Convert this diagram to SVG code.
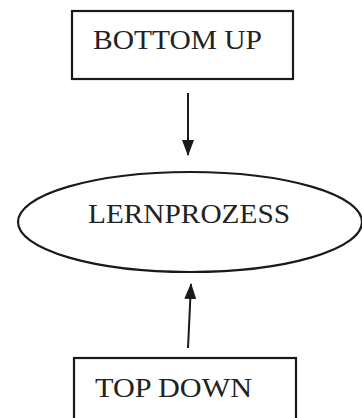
<svg xmlns="http://www.w3.org/2000/svg" width="362" height="418" viewBox="0 0 362 418">
<defs>
<style>
.shape{fill:#fff;stroke:#1a1a1a;stroke-width:2.2}
.lbl{font-family:"Liberation Serif","DejaVu Serif",serif;font-size:27px;fill:#222}
.conn{stroke:#1a1a1a;stroke-width:2;fill:none}
</style>
<marker id="ah" viewBox="0 0 16 12" refX="15" refY="6" markerWidth="16" markerHeight="12" markerUnits="userSpaceOnUse" orient="auto">
<path d="M0,0 L16,6 L0,12 z" fill="#1a1a1a"/>
</marker>
</defs>
<rect width="362" height="418" fill="#fff"/>
<g id="connectors">
<line class="conn" x1="188" y1="93" x2="188" y2="155" marker-end="url(#ah)"/>
<line class="conn" x1="188" y1="348" x2="191" y2="284" marker-end="url(#ah)"/>
</g>
<g id="bottom-up">
<rect class="shape" x="72" y="11" width="221" height="68"/>
<text class="lbl" x="93" y="49" textLength="169" lengthAdjust="spacingAndGlyphs">BOTTOM UP</text>
</g>
<g id="lernprozess">
<ellipse class="shape" cx="190" cy="222" rx="172" ry="50"/>
<text class="lbl" x="88" y="223" textLength="202" lengthAdjust="spacingAndGlyphs">LERNPROZESS</text>
</g>
<g id="top-down">
<rect class="shape" x="74" y="358" width="222" height="80"/>
<text class="lbl" x="95" y="397" textLength="157" lengthAdjust="spacingAndGlyphs">TOP DOWN</text>
</g>
</svg>
